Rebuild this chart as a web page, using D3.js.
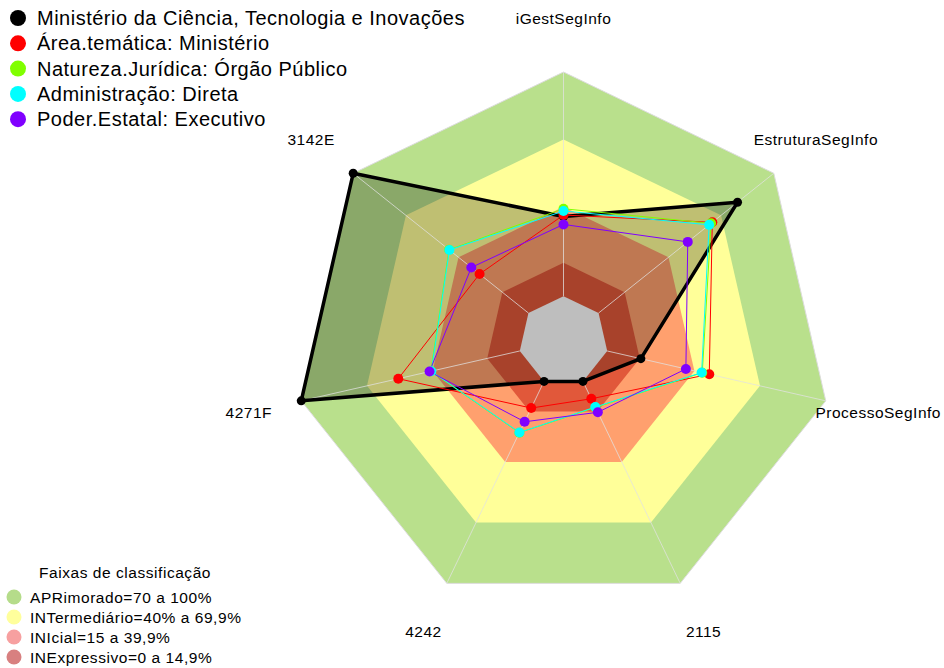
<!DOCTYPE html>
<html>
<head>
<meta charset="utf-8">
<script src="https://cdn.jsdelivr.net/npm/d3@7"></script>
<style>
  html, body { margin: 0; padding: 0; background: #ffffff; }
  svg { display: block; font-family: "Liberation Sans", Arial, sans-serif; }
</style>
</head>
<body>
<svg id="chart" width="944" height="668"></svg>
<script>
// ---------- data ----------
const categories = ["iGestSegInfo", "EstruturaSegInfo", "ProcessoSegInfo", "2115", "4242", "4271F", "3142E"];

const seriesNames = [
  "Ministério da Ciência, Tecnologia e Inovações",
  "Área.temática: Ministério",
  "Natureza.Jurídica: Órgão Público",
  "Administração: Direta",
  "Poder.Estatal: Executivo"
];
const seriesColors = ["#000000", "#ff0000", "#80ff00", "#00ffff", "#8000ff"];

const ministerio    = [35.5, 79.3, 15.4, 0, 0, 100, 100];
const areaTematica  = [36.2, 64.9, 46.7, 8.6, 13.2, 55.6, 27.9];
const natureza      = [39.0, 64.2, 43.5, 12.9, 25.4, 40.7, 45.3];
const administracao = [38.0, 63.1, 43.2, 12.7, 25.3, 40.5, 45.1];
const poderEstatal  = [32.0, 50.9, 36.0, 15.3, 20.0, 41.3, 32.6];
const seriesValues = [ministerio, areaTematica, natureza, administracao, poderEstatal];

const bandLevels = [100, 69.9, 39.9, 14.9];
const bandColors = ["#b9e08c", "#ffff99", "#ffa06e", "#e1583a"];
const bandLegendLabels = [
  "APRimorado=70 a 100%",
  "INTermediário=40% a 69,9%",
  "INIcial=15 a 39,9%",
  "INExpressivo=0 a 14,9%"
];
const bandLegendColors = ["#b5dc8a", "#ffff9c", "#f7a0a0", "#d88080"];
const bandLegendTitle = "Faixas de classificação";
const centerColor = "#bebebe";

// ---------- layout ----------
const svg = d3.select("#chart");
const cx = 563.5, cy = 341, R = 269;
const n = categories.length;

const rScale = d3.scaleLinear().domain([0, 100]).range([R / 6, R]);
const angle = d3.scaleLinear().domain([0, n]).range([0, 2 * Math.PI]);

function pt(i, v) {
  const a = angle(i);
  const r = rScale(v);
  return [cx + r * Math.sin(a), cy - r * Math.cos(a)];
}
function polyPoints(vals) {
  return vals.map((v, i) => pt(i, v));
}
const line = d3.line().curve(d3.curveLinearClosed);
const full = (v) => categories.map(() => v);

// bands
const g = svg.append("g");
bandLevels.forEach((lv, k) => {
  g.append("path")
    .attr("d", line(polyPoints(full(lv))))
    .attr("fill", bandColors[k])
    .attr("stroke", k === 0 ? "#dcdcdc" : "none")
    .attr("stroke-width", 1);
});

// black series fill
g.append("path")
  .attr("d", line(polyPoints(ministerio)))
  .attr("fill", "rgba(0,0,0,0.25)")
  .attr("stroke", "none");

// grey center
g.append("path")
  .attr("d", line(polyPoints(full(0))))
  .attr("fill", centerColor);

// radial axis lines
categories.forEach((c, i) => {
  const [x0, y0] = pt(i, 0);
  const [x1, y1] = pt(i, 100);
  g.append("line")
    .attr("x1", x0).attr("y1", y0).attr("x2", x1).attr("y2", y1)
    .attr("stroke", "rgba(225,225,225,0.75)")
    .attr("stroke-width", 1);
});

// series lines and points
seriesValues.forEach((vals, s) => {
  const pts = polyPoints(vals);
  g.append("path")
    .attr("d", line(pts))
    .attr("fill", "none")
    .attr("stroke", seriesColors[s])
    .attr("stroke-width", s === 0 ? 3.5 : 1)
    .attr("stroke-linejoin", "round");
});
seriesValues.forEach((vals, s) => {
  const pts = polyPoints(vals);
  g.selectAll(null).data(pts).enter().append("circle")
    .attr("cx", d => d[0]).attr("cy", d => d[1])
    .attr("r", s === 0 ? 4.5 : 5)
    .attr("fill", seriesColors[s]);
});

// axis labels
categories.forEach((c, i) => {
  const a = angle(i);
  const r = 1.2 * R;
  svg.append("text")
    .attr("x", cx + r * Math.sin(a))
    .attr("y", cy - r * Math.cos(a))
    .attr("text-anchor", "middle")
    .attr("dominant-baseline", "central")
    .attr("font-size", 15.5)
    .attr("letter-spacing", 0.5)
    .attr("fill", "#000")
    .text(c);
});

// top legend
const legTop = svg.append("g");
seriesNames.forEach((name, s) => {
  const y = 18 + s * 25.3;
  legTop.append("circle").attr("cx", 18).attr("cy", y).attr("r", 8).attr("fill", seriesColors[s]);
  legTop.append("text")
    .attr("x", 37).attr("y", y)
    .attr("dominant-baseline", "central")
    .attr("font-size", 20)
    .attr("letter-spacing", 0.5)
    .attr("fill", "#000")
    .text(name);
});

// bottom legend
const legBot = svg.append("g");
legBot.append("text")
  .attr("x", 125).attr("y", 572)
  .attr("text-anchor", "middle")
  .attr("dominant-baseline", "central")
  .attr("font-size", 15.5)
  .attr("letter-spacing", 0.55)
  .text(bandLegendTitle);
bandLegendLabels.forEach((lab, k) => {
  const y = 597 + k * 20;
  legBot.append("circle").attr("cx", 14).attr("cy", y).attr("r", 7.5).attr("fill", bandLegendColors[k]);
  legBot.append("text")
    .attr("x", 30).attr("y", y)
    .attr("dominant-baseline", "central")
    .attr("font-size", 15.5)
    .attr("letter-spacing", 0.55)
    .text(lab);
});
</script>
</body>
</html>
